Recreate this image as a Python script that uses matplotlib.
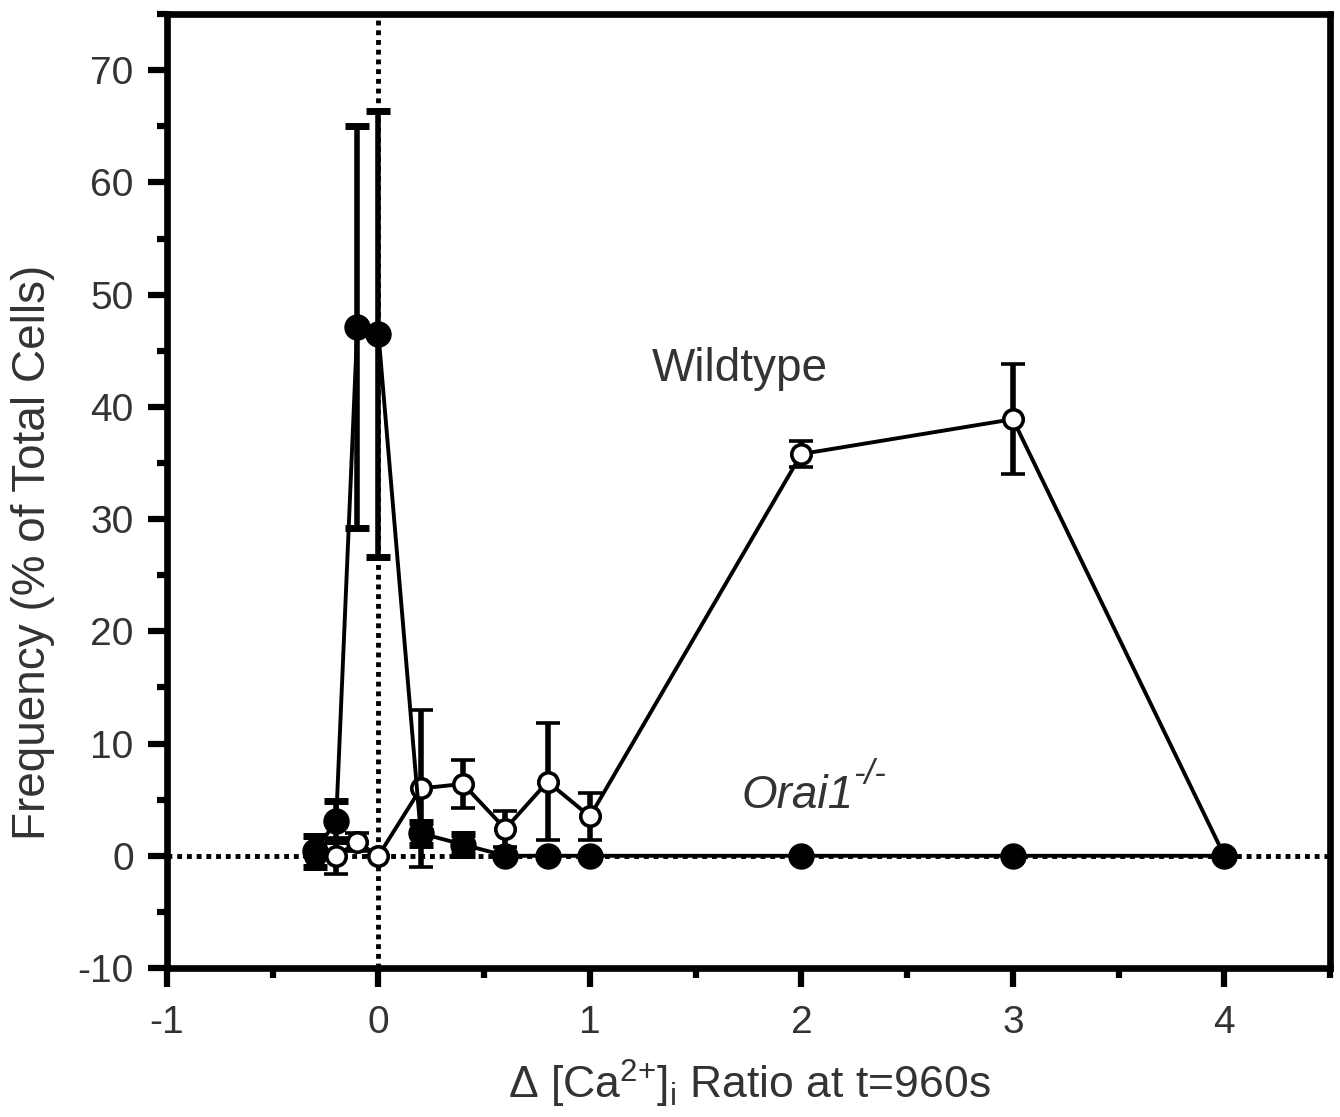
import matplotlib
matplotlib.use("Agg")
import matplotlib.pyplot as plt
from matplotlib.ticker import MultipleLocator

plt.rcParams["font.family"] = ["Liberation Sans", "DejaVu Sans"]
plt.rcParams["mathtext.fontset"] = "custom"
plt.rcParams["mathtext.rm"] = "Liberation Sans"
plt.rcParams["mathtext.it"] = "Liberation Sans:italic"
plt.rcParams["mathtext.default"] = "regular"
plt.rcParams["axes.unicode_minus"] = False

# Orai1-/- (filled)
x_ko = [-0.3, -0.2, -0.1, 0.0, 0.2, 0.4, 0.6, 0.8, 1.0, 2.0, 3.0, 4.0]
y_ko = [0.4, 3.1, 47.1, 46.5, 2.0, 1.0, 0.0, 0.0, 0.0, 0.0, 0.0, 0.0]
e_ko = [1.4, 1.8, 17.9, 19.9, 1.0, 0.9, 0.0, 0.0, 0.0, 0.0, 0.0, 0.0]

# Wildtype (open)
x_wt = [-0.3, -0.2, -0.1, 0.0, 0.2, 0.4, 0.6, 0.8, 1.0, 2.0, 3.0, 4.0]
y_wt = [0.0, 0.0, 1.2, 0.0, 6.0, 6.4, 2.4, 6.6, 3.5, 35.8, 38.9, 0.0]
e_wt = [0.0, 1.6, 0.8, 0.0, 7.0, 2.1, 1.6, 5.2, 2.1, 1.2, 4.9, 0.0]

ytick_vals = [-10, 0, 10, 20, 30, 40, 50, 60, 70]
xtick_vals = [-1, 0, 1, 2, 3, 4]

txt = "#333333"

fig = plt.figure(figsize=(13.4, 11.17), dpi=100)
ax = fig.add_axes([0.1246, 0.1334, 0.868, 0.854])

ax.axhline(0, color="black", lw=3.5, ls=(0, (1, 1)), zorder=1)
ax.axvline(0, color="black", lw=3.5, ls=(0, (1, 1)), zorder=1)

ax.errorbar(x_wt, y_wt, yerr=e_wt, fmt="-o", color="black", lw=2.8,
            elinewidth=4, capsize=8.5, capthick=5, ms=14,
            mfc="white", mec="black", mew=2.6, zorder=3)
ax.errorbar(x_ko, y_ko, yerr=e_ko, fmt="-o", color="black", lw=2.8,
            elinewidth=4, capsize=8.5, capthick=5, ms=18,
            mfc="black", mec="black", zorder=4)

ax.text(1.71, 43.4, "Wildtype", fontsize=33, color=txt, ha="center", va="center")
t1 = ax.text(1.98, 5.3, "Orai1", fontsize=33, color=txt, style="italic",
             ha="center", va="center")
ax.annotate("-/-", xy=(1.0, 0.62), xycoords=t1, fontsize=25, color=txt,
            style="italic", ha="left", va="bottom")

ax.set_xlim(-1, 4.5)
ax.set_ylim(-10, 75)
ax.set_xticks(xtick_vals)
ax.set_yticks(ytick_vals)
ax.xaxis.set_minor_locator(MultipleLocator(0.5))
ax.yaxis.set_minor_locator(MultipleLocator(5))

for s in ax.spines.values():
    s.set_linewidth(4.8)
ax.tick_params(which="major", length=14, width=4.5, labelsize=28,
               labelcolor=txt, pad=10)
ax.tick_params(which="major", axis="x", pad=13)
ax.tick_params(which="minor", length=7, width=4.5)

ax.set_xlabel(r"Δ [Ca$^{2{+}}$]$_{i}$ Ratio at t=960s", fontsize=32, color=txt)
ax.set_ylabel("Frequency (% of Total Cells)", fontsize=33, color=txt)
ax.xaxis.set_label_coords(0.501, -0.094)
ax.yaxis.set_label_coords(-0.096, 0.436)

fig.savefig("out.png", dpi=100)
